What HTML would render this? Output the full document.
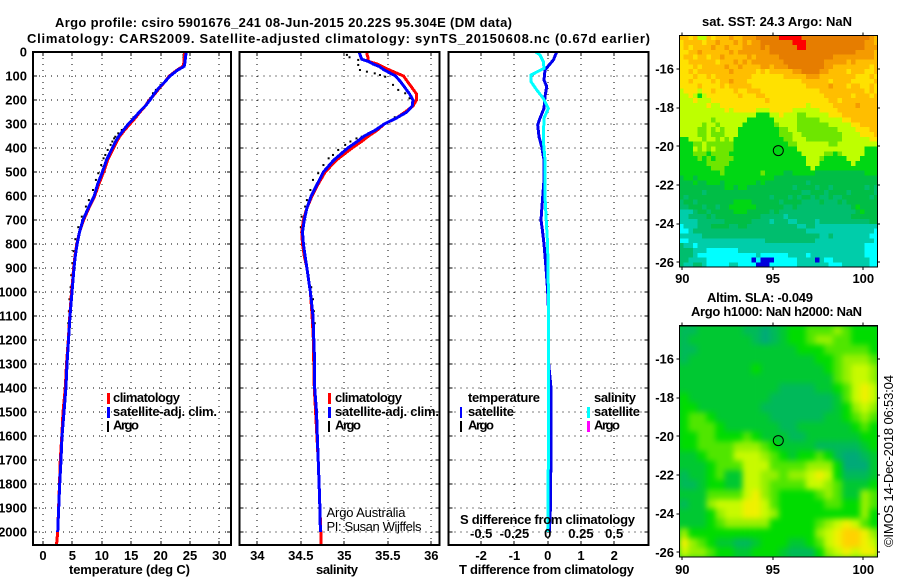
<!DOCTYPE html>
<html>
<head>
<meta charset="utf-8">
<title>Argo profile csiro 5901676_241</title>
<style>
html,body{margin:0;padding:0;background:#fff;}
svg{display:block;}
text{font-family:"Liberation Sans",sans-serif;font-weight:bold;font-size:13px;fill:#000;}
.thin{font-weight:normal;}
</style>
</head>
<body>
<svg id="chart" xmlns="http://www.w3.org/2000/svg" width="900" height="580" viewBox="0 0 900 580">
<defs>
<clipPath id="clip-sst"><rect x="679.3" y="35.3" width="198" height="231.7"/></clipPath>
<clipPath id="clip-sla"><rect x="679.3" y="325.7" width="198" height="231.3"/></clipPath>
<filter id="smooth" x="-5%" y="-5%" width="110%" height="110%" color-interpolation-filters="sRGB"><feGaussianBlur stdDeviation="3"/></filter>
</defs>
<rect width="900" height="580" fill="#fff"/>
<text x="55" y="27" textLength="457" lengthAdjust="spacing">Argo profile: csiro 5901676_241 08-Jun-2015 20.22S 95.304E (DM data)</text>
<text x="27" y="43" textLength="623" lengthAdjust="spacing">Climatology: CARS2009. Satellite-adjusted climatology: synTS_20150608.nc (0.67d earlier)</text>

<g id="panel-t"></g>
<g id="panel-s"></g>
<g id="panel-d"></g>
<g id="map-sst"></g>
<g id="map-sla"></g>

<text x="69" y="574" textLength="121" lengthAdjust="spacing">temperature (deg C)</text>
<text x="316" y="574" textLength="42" lengthAdjust="spacing">salinity</text>
<text x="459" y="574" textLength="175" lengthAdjust="spacing">T difference from climatology</text>
<text x="460" y="524" textLength="175" lengthAdjust="spacing">S difference from climatology</text>

<g>
<rect x="107" y="393" width="3" height="11" fill="#f00"/>
<text x="113" y="402" textLength="67" lengthAdjust="spacing">climatology</text>
<rect x="107" y="407" width="3" height="11" fill="#00f"/>
<text x="113" y="416" textLength="104" lengthAdjust="spacing">satellite-adj. clim.</text>
<rect x="107" y="421" width="2" height="11" fill="#000"/>
<text x="113" y="429.5" textLength="26" lengthAdjust="spacing">Argo</text>
</g>
<g>
<rect x="328" y="393" width="3" height="11" fill="#f00"/>
<text x="335" y="402" textLength="67" lengthAdjust="spacing">climatology</text>
<rect x="328" y="407" width="3" height="11" fill="#00f"/>
<text x="335" y="416" textLength="104" lengthAdjust="spacing">satellite-adj. clim.</text>
<rect x="328" y="421" width="2" height="11" fill="#000"/>
<text x="335" y="429.5" textLength="26" lengthAdjust="spacing">Argo</text>
<text class="thin" x="326.5" y="517" textLength="79" lengthAdjust="spacing">Argo Australia</text>
<text class="thin" x="326.5" y="531" textLength="95" lengthAdjust="spacing">PI: Susan Wijffels</text>
</g>
<g>
<text x="468" y="402" textLength="72" lengthAdjust="spacing">temperature</text>
<rect x="460" y="407" width="2" height="11" fill="#00f"/>
<text x="468" y="416" textLength="46" lengthAdjust="spacing">satellite</text>
<rect x="460" y="421" width="2" height="11" fill="#000"/>
<text x="468" y="429.5" textLength="26" lengthAdjust="spacing">Argo</text>
<text x="594" y="402" textLength="42" lengthAdjust="spacing">salinity</text>
<rect x="587" y="407" width="3" height="11" fill="#0ff"/>
<text x="594" y="416" textLength="46" lengthAdjust="spacing">satellite</text>
<rect x="587" y="421" width="3" height="11" fill="#f0f"/>
<text x="594" y="429.5" textLength="26" lengthAdjust="spacing">Argo</text>
</g>

<text x="702" y="26" textLength="150" lengthAdjust="spacing">sat. SST: 24.3 Argo: NaN</text>
<text x="707" y="302" textLength="106" lengthAdjust="spacing">Altim. SLA: -0.049</text>
<text x="691" y="316" textLength="171" lengthAdjust="spacing">Argo h1000: NaN h2000: NaN</text>
<text class="thin" transform="translate(893 547) rotate(-90)" textLength="172" lengthAdjust="spacing">©IMOS 14-Dec-2018 06:53:04</text>
</svg>

<script>
// ---- profile data ----
const depthLevels = [0,10,20,30,40,50,60,75,100,125,150,175,200,225,250,275,300,325,350,375,400,450,500,550,600,650,700,750,800,850,900,950,1000,1100,1200,1300,1400,1500,1600,1700,1800,1900,2000,2054];
const climTemp = [24.1,24.1,24.05,24,24,23.9,23.8,22.8,21.5,20.7,19.8,19,18.1,17.4,16.5,15.7,14.8,13.9,13.1,12.5,12,11,10.3,9.5,8.8,7.8,6.9,6.2,5.75,5.45,5.2,5.05,4.85,4.55,4.3,4,3.8,3.4,3.2,2.95,2.8,2.65,2.5,2.3];
const satTemp = [24.3,24.3,24.25,24.2,24.15,24.1,24,22.9,21.6,20.7,19.7,18.9,18.2,17.4,16.4,15.5,14.5,13.7,12.9,12.3,11.8,10.8,10.1,9.3,8.7,7.7,6.8,6.2,5.8,5.5,5.27,5.1,4.93,4.6,4.34,4.08,3.9,3.57,3.23,3.06,2.84,2.67,2.5];
const satDepthsEnd = 2000;
const climSal = [35.26,35.26,35.27,35.27,35.28,35.38,35.43,35.52,35.68,35.73,35.78,35.83,35.83,35.79,35.7,35.6,35.46,35.38,35.28,35.19,35.09,34.91,34.78,34.7,34.63,34.57,34.53,34.51,34.52,34.54,34.57,34.59,34.61,34.63,34.645,34.65,34.655,34.67,34.685,34.7,34.71,34.72,34.73,34.735];
const satSal = [35.17,35.18,35.19,35.2,35.28,35.33,35.4,35.46,35.59,35.65,35.7,35.75,35.79,35.78,35.72,35.6,35.46,35.36,35.23,35.14,35.04,34.88,34.76,34.69,34.62,34.57,34.54,34.52,34.53,34.55,34.57,34.59,34.61,34.64,34.65,34.66,34.66,34.68,34.69,34.7,34.71,34.72,34.725];
const argoDepths = [12,22,33,54,75,82,89,96,103,137,158,172,193,272,325,339,353,360,373,387,408,429,443,471,505,533,575,617,644,686,730,780,830,880,930,980,1030,1080,1130];
const argoTemp = [23.9,23.9,23.9,23.9,22.8,22.4,22,21.7,21.3,20,19.2,18.7,18.2,15.4,13.4,12.8,12.3,12.1,11.8,11.5,11,10.6,10.3,9.9,9.4,9,8.5,7.8,7.3,6.6,6,5.5,5.2,5,4.8,4.7,4.5,4.4,4.3];
const argoSal = [35.03,35.06,35.16,35.16,35.18,35.26,35.35,35.41,35.47,35.56,35.62,35.7,35.75,35.58,35.37,35.28,35.2,35.14,35.07,35.01,34.93,34.87,34.82,34.76,34.7,34.64,34.61,34.57,34.55,34.51,34.5,34.51,34.53,34.56,34.59,34.62,34.64,34.65,34.66];
const tDiffDepths = [0,33,75,117,144,186,235,276,304,353,395,450,533,603,700,742,800,900,1000,1100,1300,1400,1650,1900,2000];
const tDiffValues = [0.27,0.17,-0.08,-0.11,-0.03,-0.08,-0.11,-0.23,-0.3,-0.26,-0.18,-0.11,-0.11,-0.15,-0.2,-0.16,-0.11,-0.05,0,0.03,0.03,0.1,0.1,0.08,0.05];
const sDiffDepths = [0,12,40,68,96,124,158,193,235,276,367,450,603,728,800,900,1000,1300,1600,1900,2000];
const sDiffValues = [-0.09,-0.058,-0.033,-0.028,-0.125,-0.125,-0.083,-0.033,0.005,-0.028,-0.033,-0.02,-0.02,-0.008,-0.001,0.002,0.005,0.005,0.005,0.003,0];

// ---- tick labels ----
const depthTicks = [0,100,200,300,400,500,600,700,800,900,1000,1100,1200,1300,1400,1500,1600,1700,1800,1900,2000];
const tempTicks = [0,5,10,15,20,25,30];
const salTicks = [34,34.5,35,35.5,36];
const tDiffTicks = [-2,-1,0,1,2];
const sDiffTicks = [-0.5,-0.25,0,0.25,0.5];
const sstLonTicks = [90,95,100];
const latTicks = [-16,-18,-20,-22,-24,-26];
const floatLon = [95.304];
const floatLat = [-20.22];

// ---- map data: SST colour-level per quarter-degree cell, north to south ----
const sstLevelColors = ['#0000dc','#00ffff','#00cdaa','#00be6e','#00be46','#00d714','#6ee600','#beff00','#ffe100','#ffbe00','#f59b00','#e67d00','#ff0000'];
const sstGrid = [
[9,9,8,9,7,7,9,8,9,9,9,10,9,9,10,10,10,11,11,11,11,11,12,12,12,12,12,11,11,11,11,11,11,11,11,11,11,11,11,11,11,11,10,9],
[8,9,9,9,9,8,9,9,10,9,9,9,10,9,10,9,10,10,11,11,11,11,11,11,11,12,12,12,11,11,11,11,11,11,11,11,11,11,11,11,11,10,10,9],
[8,9,8,9,9,9,9,10,9,9,10,9,9,9,10,10,10,10,11,10,11,11,11,11,11,11,12,12,11,11,11,11,11,11,11,11,11,11,11,11,11,10,10,10],
[8,8,9,9,10,9,9,9,9,9,9,10,9,10,10,10,10,10,10,10,11,11,11,11,11,11,11,11,11,11,11,11,11,11,11,11,11,11,11,10,10,10,10,9],
[8,9,9,8,9,9,8,9,9,10,9,9,9,9,9,10,9,10,10,10,10,10,11,11,11,11,11,11,11,11,11,11,11,11,10,10,10,10,10,10,10,10,10,9],
[8,8,9,9,9,9,9,9,8,9,9,9,10,9,10,9,10,10,10,10,10,10,10,11,11,11,11,11,11,11,11,11,10,10,10,10,10,9,10,9,9,9,9,9],
[8,8,8,9,8,9,9,9,9,9,10,9,9,10,9,9,9,9,10,10,9,10,10,10,11,11,11,11,11,11,11,11,10,10,9,9,9,9,9,9,9,9,8,9],
[8,8,9,8,9,9,9,9,9,9,9,10,9,9,9,9,9,8,9,8,9,9,9,9,9,10,10,11,11,11,11,10,10,9,9,9,9,8,9,9,9,8,8,9],
[8,8,8,9,8,8,9,8,9,9,9,9,9,9,9,9,8,8,8,8,8,8,8,9,9,9,9,9,10,10,10,9,9,9,9,9,9,9,9,8,8,8,9,8],
[8,8,9,8,8,8,8,9,8,9,9,10,9,9,9,8,8,8,8,8,8,8,8,8,8,8,8,9,9,9,9,9,9,8,9,9,9,9,8,8,8,8,8,9],
[8,8,8,8,9,8,8,8,8,9,8,9,9,9,9,9,8,8,8,8,8,8,8,8,8,8,8,8,9,9,9,9,9,10,9,9,9,8,9,9,8,8,9,8],
[7,8,8,8,7,8,8,9,8,8,8,8,9,8,8,9,9,9,8,8,8,8,8,8,8,8,8,8,8,8,8,9,9,9,9,9,9,9,9,9,9,8,9,8],
[7,7,8,7,5,7,8,8,8,8,8,8,8,9,8,8,8,9,9,8,8,8,8,8,8,8,8,8,8,8,8,8,9,9,9,9,9,9,8,9,9,9,8,9],
[7,7,7,8,7,7,7,8,8,8,8,8,8,8,8,8,8,8,8,9,8,8,8,8,8,8,8,8,8,8,8,8,8,9,9,8,9,9,9,9,9,9,9,9],
[7,7,7,7,7,7,8,7,7,8,8,8,8,8,8,8,8,8,8,8,8,8,8,8,8,8,8,8,7,8,8,8,8,8,9,9,9,9,9,10,9,9,9,9],
[7,7,7,7,7,7,7,7,7,7,8,7,8,8,8,8,8,7,7,7,8,8,8,8,8,7,7,7,7,7,7,8,8,8,8,9,9,9,9,9,9,9,9,9],
[7,7,7,7,7,7,7,7,7,7,7,7,7,7,7,7,7,5,5,5,7,7,8,7,7,7,6,6,7,7,7,7,7,8,8,8,9,9,9,9,9,9,9,9],
[7,7,7,7,7,7,7,6,7,7,7,7,7,7,7,5,5,5,5,5,5,7,7,7,7,7,6,6,6,6,6,7,7,7,7,7,8,8,9,9,9,9,9,9],
[7,7,7,7,7,6,7,7,6,7,7,7,7,7,5,5,5,5,5,5,5,6,7,7,7,7,6,6,6,6,6,6,6,7,7,7,7,7,8,8,9,9,9,9],
[7,7,7,7,6,6,7,6,7,6,7,7,7,5,5,5,5,5,5,5,5,5,6,6,7,7,6,6,6,6,6,6,6,6,6,7,7,7,7,8,8,8,9,9],
[7,7,7,7,6,6,7,6,6,6,7,7,7,5,5,5,5,5,5,5,5,5,6,6,6,7,7,6,6,6,6,6,6,6,6,6,7,7,7,7,8,8,8,9],
[5,5,7,7,7,6,7,7,6,7,6,7,5,5,5,5,5,5,5,5,5,5,5,6,6,7,7,7,6,6,6,6,6,6,6,6,7,7,7,7,7,7,8,8],
[5,5,5,6,6,7,6,6,6,6,6,6,5,5,5,5,5,5,5,5,5,5,5,5,6,6,7,7,7,7,7,7,7,6,6,7,7,7,7,7,7,7,7,7],
[5,5,5,7,6,7,6,7,6,6,6,6,5,5,5,5,5,5,5,5,5,5,5,5,5,5,7,7,7,7,7,7,7,7,7,7,7,7,7,7,7,5,5,5],
[5,5,5,6,6,6,5,6,6,6,6,5,5,5,5,5,5,5,5,5,5,5,5,5,5,5,5,7,7,7,7,7,6,6,5,6,7,7,7,7,7,5,5,5],
[5,5,5,5,6,5,6,5,6,6,6,6,5,5,5,5,5,5,5,5,5,5,5,5,5,5,5,5,7,7,7,6,5,5,5,5,5,7,7,7,5,5,5,5],
[5,5,5,5,5,5,6,6,6,6,6,5,5,5,5,5,5,5,5,5,5,5,5,5,5,5,5,5,7,7,7,5,5,5,5,5,5,5,7,5,5,5,5,5],
[5,5,5,5,5,5,5,6,6,6,5,5,5,5,5,5,5,5,5,5,5,5,5,5,5,5,5,5,5,7,5,5,5,5,5,5,5,5,5,5,5,5,5,5],
[5,5,5,5,5,5,5,5,5,6,5,5,5,5,5,5,5,5,6,5,5,5,5,4,4,5,5,5,5,5,4,4,4,4,4,4,4,4,4,4,4,5,5,5],
[4,5,5,4,5,5,5,5,5,5,5,5,5,5,5,5,5,5,5,5,5,4,4,4,4,4,4,4,4,4,4,4,4,4,4,4,4,4,4,4,4,4,4,4],
[4,4,4,5,4,4,5,5,5,4,5,5,5,5,5,5,5,4,5,4,4,4,4,4,4,4,4,4,3,4,4,4,4,4,4,4,4,4,4,4,4,4,4,4],
[4,4,4,4,4,4,4,4,4,4,5,5,4,5,5,4,4,4,4,4,4,4,4,4,4,3,4,4,4,4,3,4,4,3,4,4,4,4,4,4,4,3,4,3],
[4,4,4,4,4,3,4,4,4,4,4,4,4,4,4,4,4,4,4,4,4,4,4,4,4,4,4,3,3,4,4,4,3,4,4,4,4,3,4,4,4,4,4,3],
[4,3,4,4,4,4,4,4,4,4,4,4,4,4,4,4,4,4,4,4,3,4,4,4,3,4,3,4,4,3,4,3,3,4,3,3,4,4,4,4,4,4,3,4],
[3,4,4,3,4,4,4,4,4,4,4,4,5,5,5,5,4,4,4,4,4,4,3,4,4,4,4,3,3,3,3,4,3,3,3,4,3,4,4,4,4,4,4,4],
[3,3,4,4,4,3,4,4,3,4,4,5,5,5,5,5,5,4,4,4,4,4,4,3,3,4,3,3,3,3,3,3,3,3,3,3,3,3,4,5,4,4,4,4],
[2,2,2,3,4,4,3,4,4,4,4,4,5,5,5,4,4,4,4,4,3,4,3,3,3,3,3,3,3,3,3,3,3,3,3,3,3,3,3,4,5,4,4,4],
[2,2,3,3,3,3,4,3,4,4,4,4,4,4,4,4,4,4,3,3,3,3,3,2,3,3,3,3,3,3,3,3,3,3,3,3,3,3,4,4,4,4,4,4],
[2,2,2,2,3,3,3,3,3,3,4,4,4,4,4,4,3,3,3,3,2,3,3,3,2,2,3,3,3,3,2,3,3,3,3,3,3,3,3,3,3,3,4,4],
[1,2,2,2,3,3,3,4,4,4,4,3,3,4,4,3,3,3,3,3,3,3,3,3,3,3,2,2,3,3,2,2,2,2,2,2,2,2,2,2,2,2,2,2],
[1,1,2,3,3,3,3,3,3,3,3,3,3,3,3,3,3,3,3,3,3,3,3,3,3,3,3,3,2,2,2,2,2,2,2,2,2,2,2,2,2,2,2,1],
[2,2,2,2,2,3,3,3,3,3,3,3,3,3,3,3,3,3,3,3,3,3,3,3,3,3,3,3,3,3,3,2,2,3,2,2,2,2,2,2,2,2,1,1],
[1,1,2,2,2,2,2,2,2,2,2,2,2,2,2,2,2,2,2,3,3,3,3,3,3,3,3,3,3,3,2,2,2,2,2,2,2,2,2,2,2,2,2,1],
[3,2,2,1,2,2,2,2,2,2,2,2,2,2,2,2,2,2,2,2,2,2,2,2,2,2,2,2,2,2,2,2,2,2,2,2,2,2,2,2,2,1,1,1],
[3,3,3,2,2,2,1,1,1,1,1,1,1,2,2,2,2,2,2,2,2,2,2,2,2,2,2,2,2,2,2,2,2,2,2,2,2,2,2,2,2,1,1,1],
[3,3,3,2,1,1,1,1,1,1,1,1,1,1,1,1,1,2,1,1,1,1,1,1,2,2,2,2,1,2,2,2,2,2,2,2,2,2,2,2,2,1,1,1],
[3,3,2,2,2,2,1,1,1,1,1,1,1,1,1,1,0,1,0,0,0,1,1,1,1,1,2,2,2,2,0,2,1,1,2,2,2,2,2,2,2,2,1,1],
[3,2,2,3,3,2,1,1,1,1,1,2,2,1,1,1,1,0,0,0,1,1,1,1,1,1,2,2,2,2,2,2,2,1,1,1,2,2,2,2,2,2,1,1]
];

// ---- map data: SLA colour-level per half-degree cell, north to south ----
const slaLevelColors = ['#00aa78','#00b95a','#00c832','#00dc00','#50e600','#96f000','#c8fa00','#f0f000','#ffd200'];
const slaGrid = [
[1,1,2,2,2,2,2,1,1,0,1,2,3,3,4,4,4,5,4,3,3,3],
[1,2,2,2,2,2,2,2,1,0,1,2,3,3,4,5,5,4,4,3,3,3],
[1,1,2,2,2,2,2,2,2,2,2,2,2,3,3,3,4,4,4,4,4,3],
[1,2,2,2,2,2,2,2,2,2,2,2,2,2,2,3,3,4,5,5,5,4],
[2,2,2,2,2,2,2,2,3,2,2,2,2,2,2,2,3,4,5,6,6,5],
[2,2,2,2,2,2,2,2,2,2,2,2,2,2,2,2,2,4,5,6,6,5],
[2,2,2,2,2,2,2,2,2,2,2,1,1,1,1,2,2,3,4,6,7,6],
[3,2,2,2,2,2,2,2,2,2,1,1,1,1,1,1,1,2,4,6,7,6],
[3,3,2,2,2,2,2,2,2,1,1,1,1,1,1,1,1,2,3,5,6,5],
[3,4,4,3,2,2,2,2,2,2,1,1,1,1,1,1,2,2,3,4,5,4],
[3,4,4,4,3,2,2,2,2,2,2,1,1,2,2,2,2,2,2,3,4,3],
[3,3,4,4,3,3,3,4,3,2,2,2,1,1,2,2,2,2,2,2,3,3],
[3,3,4,4,4,4,5,5,5,4,3,2,2,2,2,1,1,1,1,1,2,3],
[2,2,3,4,4,4,6,6,6,5,4,3,2,3,3,4,3,1,0,0,1,2],
[2,2,2,3,4,4,4,6,6,6,4,4,4,4,5,5,5,3,0,0,0,2],
[1,2,2,3,4,2,2,6,6,5,5,4,5,5,6,7,6,3,1,1,1,2],
[1,1,2,3,3,2,2,6,6,5,4,4,4,4,6,6,5,4,2,2,2,3],
[2,2,2,4,4,4,4,6,7,5,4,3,3,3,3,4,5,4,2,2,5,4],
[1,2,2,5,6,6,6,7,7,6,4,3,3,3,3,3,4,4,3,3,5,4],
[2,2,2,3,5,6,6,7,7,6,5,3,3,3,3,3,3,3,3,3,5,3],
[2,2,2,3,4,5,5,5,5,5,3,3,3,3,3,4,5,6,7,6,4,3],
[5,3,3,3,3,3,3,3,3,3,3,3,3,3,3,5,6,7,8,8,7,5],
[7,5,4,3,2,2,1,1,2,3,3,3,2,2,3,4,6,7,8,8,7,6],
[6,5,5,4,3,3,2,2,3,3,3,2,1,1,1,3,5,6,7,6,7,7]
];

// ---- axis functions ----
const panelTop = 52, panelBottom = 545;
function depthY(d){ return 52 + d*0.24; }
function tempX(v){ return 43 + v*5.88; }
function salX(v){ return 257.3 + (v-34)*87; }
function tDiffX(v){ return 547.7 + v*33.3; }
function sDiffX(v){ return 547.7 + v*133; }
function mapLonX(lon){ return 682.3 + (lon-90)*18.1; }
function sstLatY(lat){ return 69 + (-16-lat)*19.33; }
function slaLatY(lat){ return 359 + (-16-lat)*19.33; }

const NS = 'http://www.w3.org/2000/svg';
function make(tag, parent){
  const el = document.createElementNS(NS, tag);
  parent.appendChild(el);
  return el;
}
function fmt(v){ return String(v); }

function drawFrame(g, x0, x1, xTicks, xFn, xLabels){
  const grid = make('g', g);
  
  
  xTicks.forEach(function(t){
    const x = Math.round(xFn(t));
    const v = make('line', grid);
    
    
    v.setAttribute('x1', x); v.setAttribute('x2', x);
    v.setAttribute('y1', panelTop); v.setAttribute('y2', panelBottom);
    v.setAttribute('stroke', '#000');
    v.setAttribute('stroke-dasharray', '1 5');
    v.setAttribute('shape-rendering', 'crispEdges');
    const b = make('line', g);
    
    
    b.setAttribute('x1', x); b.setAttribute('x2', x);
    b.setAttribute('y1', panelBottom-4); b.setAttribute('y2', panelBottom);
    b.setAttribute('stroke', '#000');
    b.setAttribute('shape-rendering', 'crispEdges');
    const c = make('line', g);
    
    
    c.setAttribute('x1', x); c.setAttribute('x2', x);
    c.setAttribute('y1', panelTop); c.setAttribute('y2', panelTop+4);
    c.setAttribute('stroke', '#000');
    c.setAttribute('shape-rendering', 'crispEdges');
  });
  depthTicks.forEach(function(d){
    if(d===0) return;
    const y = Math.round(depthY(d));
    const h = make('line', grid);
    
    
    h.setAttribute('x1', x0); h.setAttribute('x2', x1);
    h.setAttribute('y1', y); h.setAttribute('y2', y);
    h.setAttribute('stroke', '#000');
    h.setAttribute('stroke-dasharray', '1 5');
    h.setAttribute('shape-rendering', 'crispEdges');
    const l = make('line', g);
    
    
    l.setAttribute('x1', x0); l.setAttribute('x2', x0+4);
    l.setAttribute('y1', y); l.setAttribute('y2', y);
    l.setAttribute('stroke', '#000');
    l.setAttribute('shape-rendering', 'crispEdges');
    const r = make('line', g);
    
    
    r.setAttribute('x1', x1-4); r.setAttribute('x2', x1);
    r.setAttribute('y1', y); r.setAttribute('y2', y);
    r.setAttribute('stroke', '#000');
    r.setAttribute('shape-rendering', 'crispEdges');
  });
  xLabels.forEach(function(t){
    const tx = make('text', g);
    
    
    tx.setAttribute('x', xFn(t));
    tx.setAttribute('y', 560);
    tx.setAttribute('text-anchor', 'middle');
    tx.textContent = fmt(t);
  });
}
function drawBorder(g, x0, y0, x1, y1){
  const box = make('rect', g);
  
  
  box.setAttribute('x', x0); box.setAttribute('y', y0);
  box.setAttribute('width', x1-x0); box.setAttribute('height', y1-y0);
  box.setAttribute('fill', 'none');
  box.setAttribute('stroke', '#000');
  box.setAttribute('stroke-width', '1.6');
  box.setAttribute('shape-rendering', 'crispEdges');
}
function pointsFor(values, depths, xFn){
  return values.map(function(v,i){ return xFn(v).toFixed(1)+','+depthY(depths[i]).toFixed(1); }).join(' ');
}

// ---- temperature panel ----
const panelT = document.getElementById('panel-t');
drawFrame(panelT, 33, 231, tempTicks, tempX, tempTicks);
depthTicks.forEach(function(d){
  const t = make('text', panelT);
  
  
  t.setAttribute('x', 27);
  t.setAttribute('y', depthY(d)+4.5);
  t.setAttribute('text-anchor', 'end');
  t.textContent = fmt(d);
});
argoTemp.forEach(function(v,i){
  const m = make('rect', panelT);
  
  
  m.setAttribute('x', tempX(v)-1); m.setAttribute('y', depthY(argoDepths[i])-1);
  m.setAttribute('width', 2); m.setAttribute('height', 2);
  m.setAttribute('fill', '#000');
});
const climTLine = make('polyline', panelT);


climTLine.setAttribute('points', pointsFor(climTemp, depthLevels, tempX));
climTLine.setAttribute('fill', 'none');
climTLine.setAttribute('stroke', '#f00');
climTLine.setAttribute('stroke-width', '3');
climTLine.setAttribute('shape-rendering', 'crispEdges');
const satTLine = make('polyline', panelT);


satTLine.setAttribute('points', pointsFor(satTemp, depthLevels, tempX));
satTLine.setAttribute('fill', 'none');
satTLine.setAttribute('stroke', '#00f');
satTLine.setAttribute('stroke-width', '3');
satTLine.setAttribute('shape-rendering', 'crispEdges');
drawBorder(panelT, 33, 52, 231, 545);

// ---- salinity panel ----
const panelS = document.getElementById('panel-s');
drawFrame(panelS, 239.5, 439.5, salTicks, salX, salTicks);
argoSal.forEach(function(v,i){
  const m = make('rect', panelS);
  
  
  m.setAttribute('x', salX(v)-1); m.setAttribute('y', depthY(argoDepths[i])-1);
  m.setAttribute('width', 2); m.setAttribute('height', 2);
  m.setAttribute('fill', '#000');
});
const climSLine = make('polyline', panelS);


climSLine.setAttribute('points', pointsFor(climSal, depthLevels, salX));
climSLine.setAttribute('fill', 'none');
climSLine.setAttribute('stroke', '#f00');
climSLine.setAttribute('stroke-width', '3');
climSLine.setAttribute('shape-rendering', 'crispEdges');
const satSLine = make('polyline', panelS);


satSLine.setAttribute('points', pointsFor(satSal, depthLevels, salX));
satSLine.setAttribute('fill', 'none');
satSLine.setAttribute('stroke', '#00f');
satSLine.setAttribute('stroke-width', '3');
satSLine.setAttribute('shape-rendering', 'crispEdges');
drawBorder(panelS, 239.5, 52, 439.5, 545);

// ---- difference panel ----
const panelD = document.getElementById('panel-d');
drawFrame(panelD, 448.5, 648.5, tDiffTicks, tDiffX, tDiffTicks);
const tDiffLine = make('polyline', panelD);


tDiffLine.setAttribute('points', pointsFor(tDiffValues, tDiffDepths, tDiffX));
tDiffLine.setAttribute('fill', 'none');
tDiffLine.setAttribute('stroke', '#0000ee');
tDiffLine.setAttribute('stroke-width', '3');
tDiffLine.setAttribute('shape-rendering', 'crispEdges');
const sDiffLine = make('polyline', panelD);


sDiffLine.setAttribute('points', pointsFor(sDiffValues, sDiffDepths, sDiffX));
sDiffLine.setAttribute('fill', 'none');
sDiffLine.setAttribute('stroke', '#0ff');
sDiffLine.setAttribute('stroke-width', '3');
sDiffLine.setAttribute('shape-rendering', 'crispEdges');
sDiffTicks.forEach(function(t){
  const s = make('text', panelD);
  
  
  s.setAttribute('x', sDiffX(t));
  s.setAttribute('y', 538);
  s.setAttribute('text-anchor', 'middle');
  s.textContent = fmt(t);
});
drawBorder(panelD, 448.5, 52, 648.5, 545);

// ---- maps ----
function drawMapFrame(g, latFn, y0, y1, labelY){
  sstLonTicks.forEach(function(lon){
    const x = Math.round(mapLonX(lon));
    const a = make('line', g);
    
    
    a.setAttribute('x1', x); a.setAttribute('x2', x);
    a.setAttribute('y1', y0-3); a.setAttribute('y2', y0);
    a.setAttribute('stroke', '#000');
    a.setAttribute('shape-rendering', 'crispEdges');
    const b = make('line', g);
    
    
    b.setAttribute('x1', x); b.setAttribute('x2', x);
    b.setAttribute('y1', y1); b.setAttribute('y2', y1+3);
    b.setAttribute('stroke', '#000');
    b.setAttribute('shape-rendering', 'crispEdges');
    const t = make('text', g);
    
    
    t.setAttribute('x', mapLonX(lon));
    t.setAttribute('y', labelY);
    t.setAttribute('text-anchor', 'middle');
    t.textContent = fmt(lon);
  });
  latTicks.forEach(function(lat){
    const y = Math.round(latFn(lat));
    const a = make('line', g);
    
    
    a.setAttribute('x1', 676.5); a.setAttribute('x2', 679.5);
    a.setAttribute('y1', y); a.setAttribute('y2', y);
    a.setAttribute('stroke', '#000');
    a.setAttribute('shape-rendering', 'crispEdges');
    const b = make('line', g);
    
    
    b.setAttribute('x1', 877); b.setAttribute('x2', 880);
    b.setAttribute('y1', y); b.setAttribute('y2', y);
    b.setAttribute('stroke', '#000');
    b.setAttribute('shape-rendering', 'crispEdges');
    const t = make('text', g);
    
    
    t.setAttribute('x', 674);
    t.setAttribute('y', latFn(lat)+4.5);
    t.setAttribute('text-anchor', 'end');
    t.textContent = fmt(lat);
  });
  const box = make('rect', g);
  
  
  box.setAttribute('x', 679.5); box.setAttribute('y', y0);
  box.setAttribute('width', 198); box.setAttribute('height', y1-y0);
  box.setAttribute('fill', 'none');
  box.setAttribute('stroke', '#000');
  box.setAttribute('stroke-width', '1.2');
  box.setAttribute('shape-rendering', 'crispEdges');
  const circ = make('circle', g);
  
  
  circ.setAttribute('cx', mapLonX(floatLon[0]));
  circ.setAttribute('cy', latFn(floatLat[0]));
  circ.setAttribute('r', 5);
  circ.setAttribute('fill', 'none');
  circ.setAttribute('stroke', '#000');
}

// SST map
const mapSst = document.getElementById('map-sst');
const sstCells = make('g', mapSst);


sstCells.setAttribute('clip-path', 'url(#clip-sst)');
const lonStart = 89.83, latStart = -14.26;
sstGrid.forEach(function(row, r){
  row.forEach(function(level, c){
    const cell = make('rect', sstCells);
    
    
    const x0 = mapLonX(lonStart + c*0.25), x1 = mapLonX(lonStart + (c+1)*0.25);
    const y0 = sstLatY(latStart - r*0.25), y1 = sstLatY(latStart - (r+1)*0.25);
    cell.setAttribute('x', x0.toFixed(1));
    cell.setAttribute('y', y0.toFixed(1));
    cell.setAttribute('width', (x1-x0+0.3).toFixed(1));
    cell.setAttribute('height', (y1-y0+0.3).toFixed(1));
    cell.setAttribute('fill', sstLevelColors[level]);
    cell.setAttribute('shape-rendering', 'crispEdges');
  });
});
drawMapFrame(mapSst, sstLatY, 35.5, 267, 283);

// SLA map
const mapSla = document.getElementById('map-sla');
const slaClip = make('g', mapSla);


slaClip.setAttribute('clip-path', 'url(#clip-sla)');
const slaBase = make('rect', slaClip);


slaBase.setAttribute('x', 679); slaBase.setAttribute('y', 325);
slaBase.setAttribute('width', 199); slaBase.setAttribute('height', 233);
slaBase.setAttribute('fill', '#00c832');
const slaCells = make('g', slaClip);


slaCells.setAttribute('filter', 'url(#smooth)');
slaGrid.forEach(function(row, r){
  row.forEach(function(level, c){
    const cell = make('rect', slaCells);
    
    
    const x0 = mapLonX(lonStart + c*0.5), x1 = mapLonX(lonStart + (c+1)*0.5);
    const y0 = slaLatY(latStart - r*0.5), y1 = slaLatY(latStart - (r+1)*0.5);
    cell.setAttribute('x', x0.toFixed(1));
    cell.setAttribute('y', y0.toFixed(1));
    cell.setAttribute('width', (x1-x0+0.3).toFixed(1));
    cell.setAttribute('height', (y1-y0+0.3).toFixed(1));
    cell.setAttribute('fill', slaLevelColors[level]);
  });
});
drawMapFrame(mapSla, slaLatY, 325.7, 557, 574);
</script>
</body>
</html>
